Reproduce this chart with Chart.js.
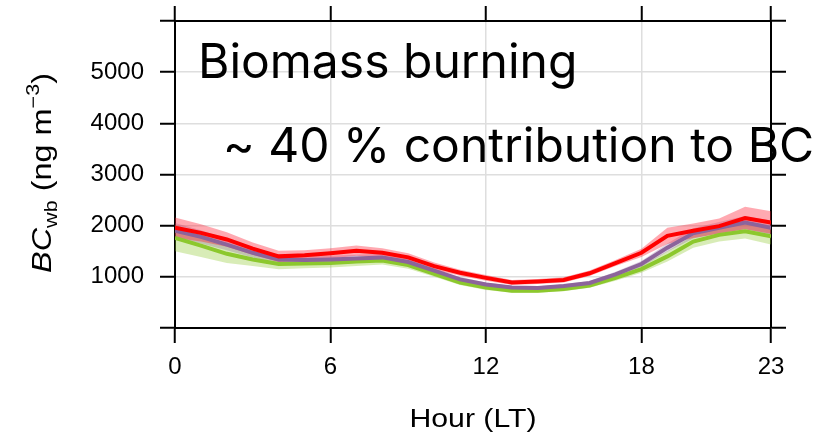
<!DOCTYPE html>
<html>
<head>
<meta charset="utf-8">
<script src="https://cdn.jsdelivr.net/npm/chart.js@4.4.1/dist/chart.umd.min.js"></script>
<style>
  html, body { margin: 0; padding: 0; background: #fff; }
  #wrap { width: 825px; height: 437px; position: relative; }
</style>
</head>
<body>
<div id="wrap"><canvas id="c"></canvas></div>
<script>
// diurnal cycle, hour of day (local time)
const hours = [0, 1, 2, 3, 4, 5, 6, 7, 8, 9, 10, 11, 12, 13, 14, 15, 16, 17, 18, 19, 20, 21, 22, 23];
const xTicks = [0, 6, 12, 18, 23];
const yTicks = [0, 1000, 2000, 3000, 4000, 5000, 6000];
const yLabels = ['', '1000', '2000', '3000', '4000', '5000', ''];

// BC_wb means (ng m-3)
const redVals    = [1960, 1860, 1730, 1550, 1400, 1420, 1460, 1510, 1470, 1380, 1210, 1080, 980, 890, 910, 940, 1070, 1270, 1470, 1800, 1900, 1990, 2150, 2060];
const purpleVals = [1900, 1780, 1630, 1470, 1340, 1330, 1340, 1360, 1380, 1290, 1120, 950, 850, 790, 780, 820, 880, 1050, 1250, 1570, 1850, 1960, 2060, 1960];
const greenVals  = [1760, 1610, 1450, 1340, 1250, 1260, 1270, 1300, 1320, 1230, 1060, 890, 790, 730, 730, 760, 830, 980, 1150, 1400, 1690, 1820, 1890, 1790];

// half-width of the shaded uncertainty bands
const redErr    = [200, 170, 140, 120, 110, 100, 100, 100, 90, 80, 70, 60, 55, 50, 50, 50, 55, 60, 80, 160, 140, 150, 220, 220];
const purpleErr = [150, 130, 110, 90, 80, 70, 70, 70, 70, 60, 50, 45, 40, 35, 35, 35, 40, 50, 60, 80, 100, 110, 130, 140];
const greenErr  = [260, 220, 180, 130, 100, 90, 90, 90, 80, 70, 60, 50, 45, 40, 40, 40, 45, 55, 70, 100, 120, 130, 140, 160];

const noteLine1 = 'Biomass burning';
const noteLine2 = '~ 40 % contribution to BC';

const toPts = (vals, err, sign) => hours.map((h, i) => ({ x: h, y: vals[i] + sign * err[i] }));

const lineSet = (vals, color) => ({
  data: hours.map((h, i) => ({ x: h, y: vals[i] })),
  borderColor: color,
  borderWidth: 4,
  pointRadius: 0,
  tension: 0,
  fill: false
});

const bandSets = (vals, err, fillColor) => ([
  { data: toPts(vals, err, 1), borderWidth: 0, pointRadius: 0, tension: 0, fill: false },
  { data: toPts(vals, err, -1), borderWidth: 0, pointRadius: 0, tension: 0, fill: '-1', backgroundColor: fillColor }
]);

const datasets = [
  lineSet(redVals, '#ff0000'),
  lineSet(purpleVals, 'rgb(140,100,155)'),
  lineSet(greenVals, 'rgb(140,200,45)'),
  ...bandSets(redVals, redErr, 'rgba(255,30,50,0.38)'),
  ...bandSets(purpleVals, purpleErr, 'rgba(140,100,155,0.3)'),
  ...bandSets(greenVals, greenErr, 'rgba(140,200,45,0.34)')
];

const gridCol = '#dedede';
const tickFont = { family: '"Liberation Sans", Arial, sans-serif', size: 24 };

const xScale = (pos, drawArea, labels) => ({
  type: 'linear',
  position: pos,
  min: 0, max: 23,
  afterBuildTicks: s => { s.ticks = xTicks.map(v => ({ value: v })); },
  afterFit: s => { s.height = pos === 'bottom' ? 109 : 21; s.paddingLeft = 0; s.paddingRight = 0; },
  grid: { color: gridCol, lineWidth: 1.5, drawOnChartArea: drawArea, tickLength: 15, tickColor: '#000', tickWidth: 2 },
  border: { color: '#000', width: 2 },
  ticks: { display: labels, color: '#000', font: tickFont, padding: 10, maxRotation: 0, autoSkip: false }
});

const yScale = (pos, drawArea, labels) => ({
  type: 'linear',
  position: pos,
  min: 0, max: 6000,
  afterBuildTicks: s => { s.ticks = yTicks.map(v => ({ value: v })); },
  afterFit: s => { s.width = pos === 'left' ? 175 : 54; s.paddingTop = 0; s.paddingBottom = 0; },
  grid: { color: gridCol, lineWidth: 1.5, drawOnChartArea: drawArea, tickLength: 15, tickColor: '#000', tickWidth: 2 },
  border: { color: '#000', width: 2 },
  ticks: { display: labels, color: '#000', font: tickFont, padding: 16, autoSkip: false,
           callback: (v, i) => yLabels[i] }
});

const textPlugin = {
  id: 'texts',
  afterDraw(chart) {
    const ctx = chart.ctx;
    ctx.save();
    ctx.fillStyle = '#000';
    ctx.textBaseline = 'alphabetic';

    // annotation
    ctx.font = '48px Inter, "Noto Sans", sans-serif';
    ctx.textAlign = 'left';
    ctx.fillText(noteLine1, 198, 78);
    ctx.fillText(noteLine2, 223, 162);

    // x title
    ctx.font = '26px "Liberation Sans", Arial, sans-serif';
    const xt = 'Hour (LT)';
    const xw = ctx.measureText(xt).width;
    ctx.save();
    ctx.translate(473, 427);
    ctx.scale(127 / xw, 1);
    ctx.textAlign = 'center';
    ctx.fillText(xt, 0, 0);
    ctx.restore();

    // y title with subscript/superscript
    const big = '27px "Liberation Sans", Arial, sans-serif';
    const bigI = 'italic 27px "Liberation Sans", Arial, sans-serif';
    const small = '18px "Liberation Sans", Arial, sans-serif';
    const parts = [
      { t: 'BC', f: bigI, dy: 0 },
      { t: 'wb', f: small, dy: 6 },
      { t: ' (ng m', f: big, dy: 0 },
      { t: '\u22123', f: small, dy: -12 },
      { t: ')', f: big, dy: 0 }
    ];
    let total = 0;
    parts.forEach(p => { ctx.font = p.f; p.w = ctx.measureText(p.t).width; total += p.w; });
    ctx.save();
    ctx.translate(51, 173);
    ctx.rotate(-Math.PI / 2);
    ctx.scale(200 / total, 1);
    let xp = -total / 2;
    ctx.textAlign = 'left';
    parts.forEach(p => { ctx.font = p.f; ctx.fillText(p.t, xp, p.dy); xp += p.w; });
    ctx.restore();

    ctx.restore();
  }
};

new Chart(document.getElementById('c'), {
  type: 'line',
  data: { datasets },
  options: {
    responsive: true,
    maintainAspectRatio: false,
    animation: false,
    layout: { padding: 0 },
    plugins: {
      legend: { display: false },
      tooltip: { enabled: false },
      filler: { drawTime: 'beforeDatasetsDraw' }
    },
    scales: {
      x: xScale('bottom', true, true),
      x2: xScale('top', false, false),
      y: yScale('left', true, true),
      y2: yScale('right', false, false)
    }
  },
  plugins: [textPlugin]
});
</script>
</body>
</html>
